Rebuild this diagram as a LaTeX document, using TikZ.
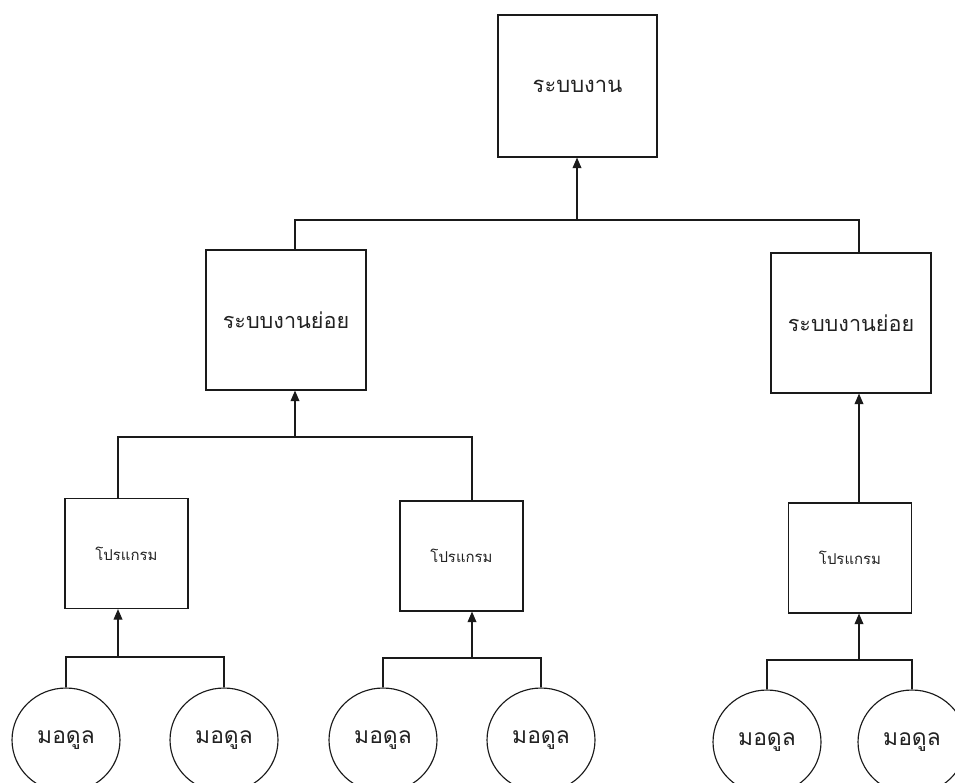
\documentclass[tikz,border=0pt]{standalone}
\usepackage{fontspec}
\usetikzlibrary{shapes.geometric, arrows.meta, positioning, calc}
\newfontfamily\thaifont[Script=Thai]{Loma}
\definecolor{LineDark}{HTML}{1A1A1A}
\definecolor{TextDark}{HTML}{222222}

\begin{document}
\begin{tikzpicture}[
        x=0.02cm, y=-0.02cm,
        box/.style={rectangle, draw=LineDark, line width=0.65pt, fill=white, inner sep=0pt, align=center, text=TextDark},
        sysbox/.style={box, minimum width=3.18cm, minimum height=2.84cm, font=\thaifont\fontsize{12.5}{15}\selectfont},
        subbox/.style={box, minimum width=3.2cm, minimum height=2.8cm, font=\thaifont\fontsize{12.3}{15}\selectfont},
        progbox/.style={box, minimum width=2.46cm, minimum height=2.2cm, font=\thaifont\fontsize{8.5}{10}\selectfont},
        modnode/.style={ellipse, draw=LineDark, line width=0.65pt, inner sep=0pt, minimum width=2.16cm, minimum height=2.08cm, text=TextDark, font=\thaifont\fontsize{13}{15}\selectfont},
        link/.style={draw=LineDark, line width=0.65pt},
        arr/.style={link, -{Triangle[width=5pt, length=6pt]}}
      ]
        \useasboundingbox (0,0) rectangle (955,782);

        % Nodes
        \node[sysbox] (sys) at (577.5,86) {ระบบงาน};
        \node[subbox] (subA) at (286,320) {ระบบงานย่อย};
        \node[subbox] (subB) at (851,323) {ระบบงานย่อย};
        \node[progbox] (progA) at (126.5,553.5) {โปรแกรม};
        \node[progbox] (progB) at (461.5,556) {โปรแกรม};
        \node[progbox] (progC) at (850,558) {โปรแกรม};
        \node[modnode] (modA1) at (66,740) {มอดูล};
        \node[modnode] (modA2) at (224,740) {มอดูล};
        \node[modnode] (modB1) at (383,740) {มอดูล};
        \node[modnode] (modB2) at (541,740) {มอดูล};
        \node[modnode] (modC1) at (767,742) {มอดูล};
        \node[modnode] (modC2) at (912,742) {มอดูล};

        % Junctions
        \coordinate (topbus) at (577,220);
        \coordinate (busA) at (295,437);
        \coordinate (busA1) at (118,657);
        \coordinate (busB1) at (472,658);
        \coordinate (busC1) at (859,660);

        % Connections
        \draw[arr] (topbus) -- (topbus |- sys.south);
        \draw[link] (busA |- subA.north) |- (topbus) -| (859,0 |- subB.north);
        \draw[arr] (busA) -- (busA |- subA.south);
        \draw[link] (busA1 |- progA.north) |- (busA) -| (busB1 |- progB.north);
        \draw[arr] (busC1 |- progC.north) -- (busC1 |- subB.south);
        \draw[arr] (busA1) -- (busA1 |- progA.south);
        \draw[arr] (busB1) -- (busB1 |- progB.south);
        \draw[arr] (busC1) -- (busC1 |- progC.south);
        \draw[link] (modA1.north) |- (busA1) -| (modA2.north);
        \draw[link] (modB1.north) |- (busB1) -| (modB2.north);
        \draw[link] (modC1.north) |- (busC1) -| (modC2.north);
      \end{tikzpicture}
\end{document}
